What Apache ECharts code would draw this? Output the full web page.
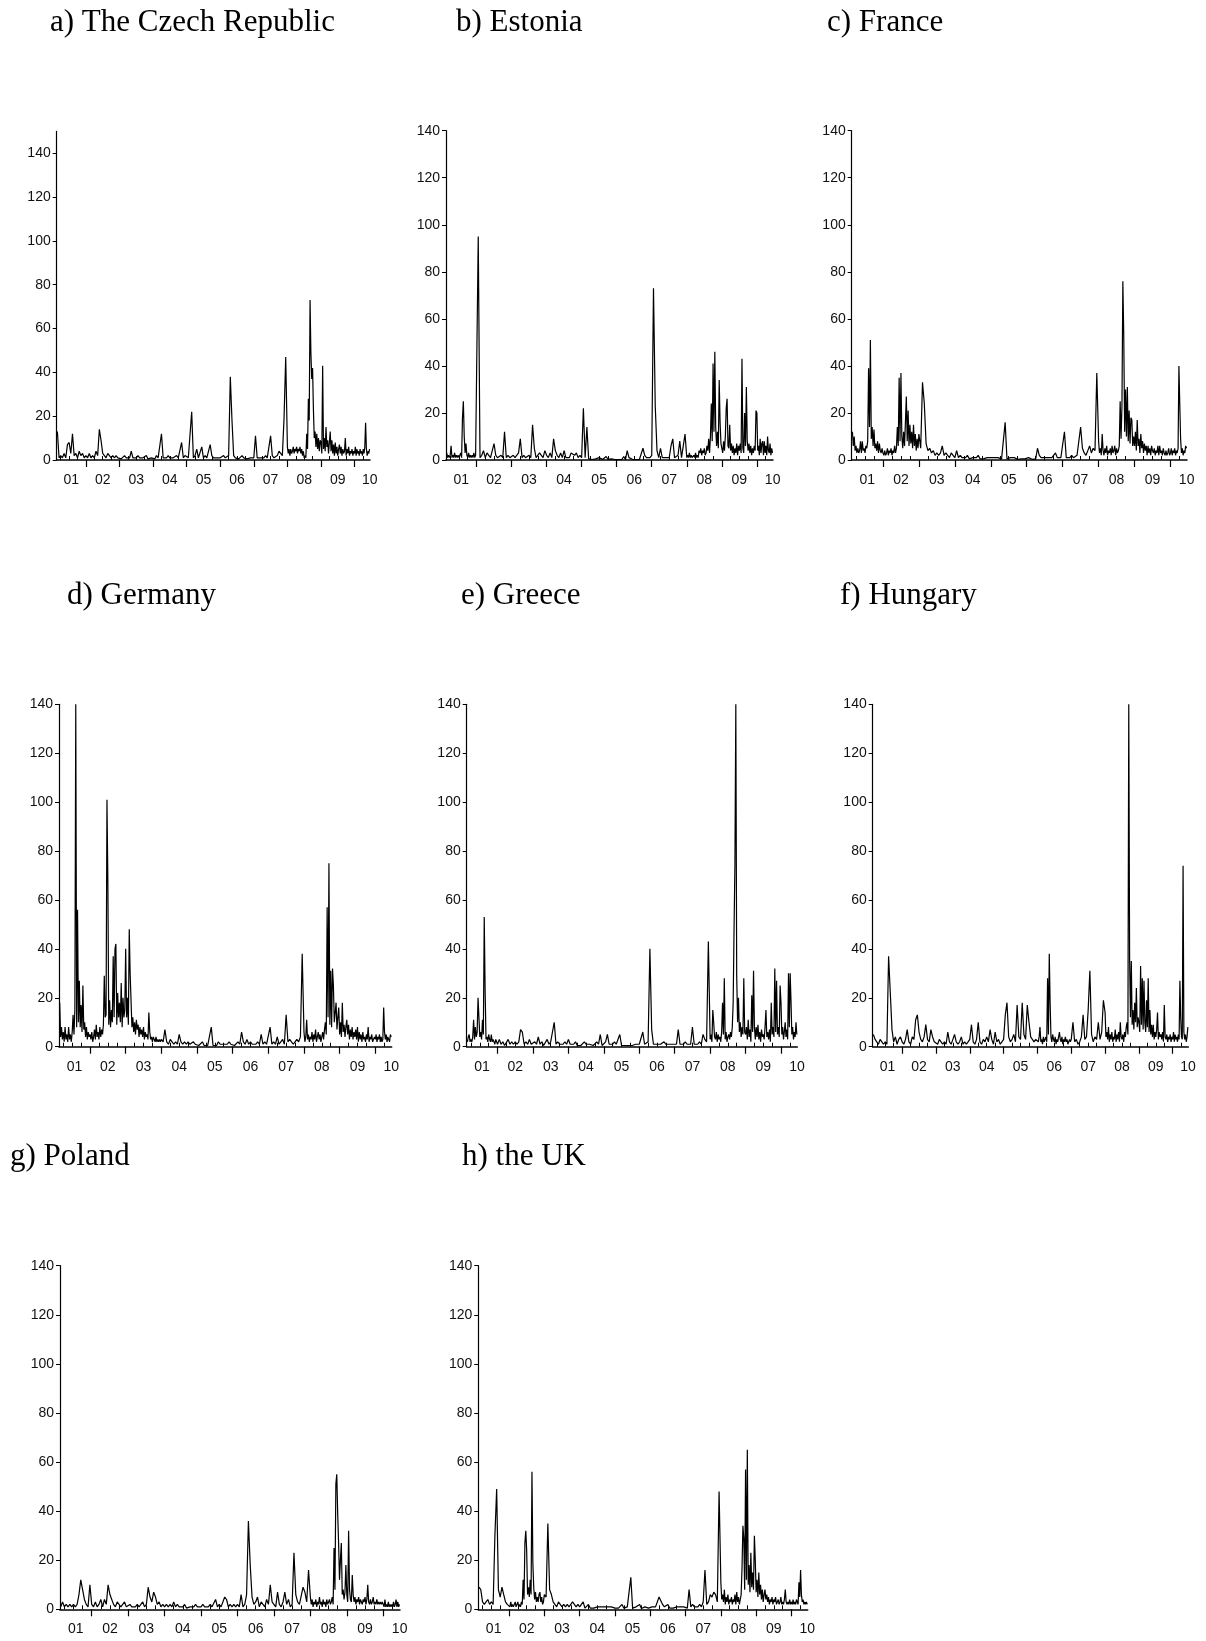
<!DOCTYPE html>
<html>
<head>
<meta charset="utf-8">
<script src="https://cdn.jsdelivr.net/npm/echarts@6/dist/echarts.min.js"></script>
<style>
  html, body { margin: 0; padding: 0; background: #ffffff; }
  #chart { width: 1206px; height: 1641px; }
</style>
</head>
<body>
<div id="chart"></div>
<script>
// Volatility series for eight EU markets, 2001-2010.
// Each country holds one row per year (2001 ... 2010). The 2001 row covers
// 2001.15-2002, the 2010 row covers 2010.0-2010.47, the others a full year;
// observations inside a row are evenly spaced, so busy years carry more points.
const yearTickLabels = ['01', '02', '03', '04', '05', '06', '07', '08', '09', '10'];
const yTickValues = [0, 20, 40, 60, 80, 100, 120, 140];

const czech = [
  [13,1,2,1,3,1,7,8,3,12,2,3,1,4,2,3,1],
  [2,1,3,1,2,1,4,2,14,9,3,2,1,3,2,1,2,1,2,1],
  [1,0.5,1,2,1,0.5,1,4,1,0.5,1,2,1,0.5,1,1,2,0.5,1,1],
  [1,0.5,2,1,1,12,1,0.5,1,2,1,0.5,1,1,2,1,1,8,1,2],
  [2,1,1,22,1,2,5,1,1,6,1,2,1,1,7,2,1,0.5,1,1],
  [1,1,2,1,1,2,38,18,2,1,1,0.5,1,2,1,1,0.5,1,1,1],
  [1,11,1,0.5,1,1,1,2,1,1,11,2,1,1,2,4,3,2,19,47],
  [6,3,5,2,5,3,4,6,3,5,4,6,3,5,4,6,3,5,2,4,1,2,1,12,5,28,18,73,49,37,42,23,10,13,6,12,5,10,4,9],
  [8,3,43,5,10,4,15,6,9,3,8,13,4,9,3,7,2,8,3,6,2,5,7,3,6,2,5,3,4,10,2,5,3,6,2,4,3,5,2,4],
  [3,6,2,5,3,4,2,5,3,4,2,5,3,6,17,5,2,4,3,5]
];

const estonia = [
  [3,1,2,1,2,6,1,2,1,3,1,2,1,2,1,2,3,1,18,25,10,3,7,2,1,3,1,2,1,2,1,3,1,2],
  [2,95,1,2,4,1,3,2,1,1,7,2,1,1,2,1,12,1,2,1],
  [1,2,1,1,3,9,1,2,1,1,2,1,15,5,1,1,3,2,1,4],
  [2,1,3,1,9,4,2,1,3,1,4,1,1,1,3,3,2,3,1,2],
  [1,22,1,14,0.5,0.3,0.2,0.3,0.5,0.2,1,0.3,0.2,0.5,1.5,0.3,0.2,0.5,0.3,0.2],
  [0.3,0.2,0.5,0.3,1.5,0.2,4,1,0.5,0.3,0.5,0.2,0.5,0.3,1,5,2,1,0.5,1],
  [2,73,23,4,1,5,1,0.5,1,1,1,6,9,1,1,2,8,1,1,11],
  [1,2,1,3,1,2,1,1,2,1,3,1,2,1,4,3,5,2,4,3,5,2,3,6,4,9,3,10,24,8,41,12,46,14,6,12,5,34,16,7],
  [5,3,8,4,10,22,26,6,5,15,4,7,3,6,2,5,3,7,2,6,4,7,3,43,5,3,20,6,31,8,4,7,3,6,2,5,3,6,4,21],
  [20,4,6,2,9,3,7,8,2,8,3,6,2,10,4,3,7,2,5,3]
];

const france = [
  [12,6,10,4,6,3,5,3,4,8,3,8,4,5,3,6,5,8,39,14,51,9,14,6,13,5,7,4,8,3,7,4,3,5],
  [3,2,4,2,3,5,2,4,3,5,2,4,3,6,3,5,14,6,35,8,37,10,5,12,6,16,27,8,21,6,15,7,12,5,15,6,11,4,9,5],
  [11,5,33,24,7,4,5,3,4,2,3,2,3,6,2,3,2,1,3,2],
  [1,4,1,2,1,0.5,1,2,0.5,1,1,0.5,1,2,0.5,1,0.5,1,1,0.5],
  [1,0.5,1,0.5,1,1,0.5,0.3,16,0.5,0.3,1,0.5,1,0.5,0.3,1,0.5,1,0.5],
  [0.5,1,0.5,0.3,1,0.5,5,2,1,0.5,1,0.5,1,0.5,1,0.5,3,1,0.5,1],
  [1,12,1,0.5,1,2,1,1,2,2,14,5,3,2,4,6,3,5,4,37],
  [8,3,5,2,11,4,2,5,3,6,2,4,3,5,2,6,3,4,6,2,5,3,4,6,25,9,23,76,53,12,30,10,31,8,21,7,18,17,6,10],
  [6,12,4,17,6,9,3,11,5,8,3,7,4,6,2,6,3,5,2,6,4,3,5,2,4,3,6,2,6,3,4,2,5,3,2,4,2,3,5,2],
  [3,5,2,4,3,5,2,4,3,5,40,24,9,3,5,2,4,3,6,5]
];

const germany = [
  [18,4,8,3,6,2,8,3,5,2,8,3,5,2,6,13,5,15,140,8,56,10,27,8,17,6,25,7,10,4,8,3,6,4],
  [5,3,6,2,4,7,3,9,4,6,3,8,4,7,5,9,29,12,13,101,68,9,19,8,15,10,37,12,40,42,9,22,12,18,10,26,8,20,12,15],
  [40,12,20,9,48,30,19,8,12,6,10,5,11,7,9,4,8,5,7,4,8,3,6,4,5,3,14,6,3,4,2,4,3,2,4,2,3,2,3,2],
  [3,2,7,2,1,3,2,1,2,1,5,2,1,2,1,2,1,1,2,1],
  [1,0.5,1,2,0.5,1,0.5,1,8,0.5,1,0.5,2,1,0.5,1,0.5,1,2,1],
  [1,0.5,1,2,1,6,2,1,3,1,2,1,0.5,1,2,1,5,1,2,1],
  [1,8,1,2,1,4,1,2,3,1,13,2,3,2,1,2,3,2,4,38],
  [6,2,4,11,3,5,2,4,3,6,2,5,3,7,2,4,6,3,5,2,4,6,3,7,10,5,57,12,75,9,31,8,32,25,10,14,18,7,12,16],
  [5,10,4,18,6,9,4,8,11,5,9,3,7,4,8,3,6,4,7,3,8,2,6,3,5,2,6,3,4,2,5,3,8,2,4,3,5,2,3,4],
  [3,5,2,4,3,5,2,4,2,3,16,6,3,5,2,4,3,2,5,4]
];

const greece = [
  [2,4,5,2,3,2,4,11,3,8,4,6,20,12,4,6,3,11,5,53,23,3,4,2,5,3,2,5,2,3,2,1,3,2],
  [1,3,1,2,0.5,1,3,1,2,1,2,1,2,7,6,1,2,1,3,1],
  [1,2,1,4,1,2,0.5,1,3,1,2,2,10,1,2,1,0.5,1,2,1],
  [3,1,0.5,1,2,0.5,1,0.5,1,2,1,0.5,1,1,0.5,1,2,1,5,0.5],
  [1,2,5,1,0.5,1,2,1,1,5,0.5,1,0.5,1,0.5,1,0.5,1,1,0.5],
  [1,0.5,6,1,1,2,40,7,1,0.5,1,0.5,1,0.5,2,1,0.5,1,0.5,1],
  [0.5,1,7,1,0.5,1,2,1,1,1,8,1,0.5,1,2,1,5,3,2,43],
  [3,5,2,15,10,4,3,6,2,5,3,4,2,6,18,5,28,3,6,2,4,5,3,6,4,8,18,48,75,140,29,10,20,6,10,4,8,5,28,6],
  [5,8,3,11,4,7,2,21,6,31,8,3,8,4,9,3,6,2,7,4,5,3,8,15,4,6,3,7,2,18,5,8,4,32,6,27,5,8,4,25],
  [18,5,8,3,6,10,4,7,3,30,8,30,19,5,8,3,6,4,10,5]
];

const hungary = [
  [5,3,2,1,3,2,1,2,1,37,22,7,2,4,1,3,4],
  [2,1,3,7,2,1,4,3,11,13,6,3,2,4,9,3,2,7,4,2],
  [2,1,3,2,1,2,1,6,2,1,3,5,2,1,2,4,1,2,1,2],
  [3,9,2,1,3,10,2,1,3,2,4,2,7,3,1,6,2,3,1,2],
  [3,13,18,4,2,3,5,2,17,4,3,18,5,3,17,10,4,3,2,3],
  [3,2,4,8,2,3,1,4,2,3,4,2,28,5,38,18,4,2,5,3,2,4,1,3,2,4,6,3,2,4,1,3,2,4,2,3,1,2,3,2],
  [3,10,2,3,1,2,4,13,3,4,15,31,5,2,4,3,10,3,6,19],
  [14,4,6,3,8,2,5,3,6,2,4,3,7,2,5,3,6,2,10,4,3,5,2,6,4,8,10,5,140,36,12,35,9,15,7,18,10,24,8,12],
  [10,6,33,9,28,7,27,10,6,19,8,28,6,15,5,9,4,9,3,6,4,7,14,3,6,4,5,3,6,2,17,4,3,5,2,4,3,5,2,4],
  [3,6,2,5,3,4,2,5,3,27,12,4,3,74,6,3,5,2,4,8]
];

const poland = [
  [1,3,1,2,1,2,1,2,1,2,6,12,8,4,2,1,10],
  [2,1,3,1,2,4,1,4,2,10,6,4,2,1,3,2,1,2,3,1],
  [1,2,1,0.5,1,2,1,1,3,1,2,9,5,3,7,5,2,3,1,2],
  [1,2,1,2,1,3,1,2,1,0.5,1,2,0.5,1,1,0.5,1,2,1,0.5],
  [1,2,1,0.5,1,2,1,0.5,4,1,2,1,0.5,5,4,1,2,1,2,1],
  [2,1,6,1,2,6,36,18,5,2,3,5,1,3,2,1,4,2,10,3],
  [2,1,7,2,1,3,7,2,4,1,2,23,6,3,2,2,9,7,3,16],
  [5,2,4,1,3,2,4,1,3,2,5,2,3,1,4,2,3,1,4,2,3,4,2,3,5,2,25,8,51,55,39,27,12,20,27,6,8,4,7,18],
  [6,3,32,8,4,3,14,6,3,5,2,4,3,5,2,4,3,2,4,3,5,2,4,10,3,2,4,2,3,5,2,3,2,4,2,3,2,3,2,3],
  [3,1,4,1,2,1,3,1,2,1,2,1,3,1,2,4,1,3,1,2]
];

const uk = [
  [9,8,3,2,3,4,2,3,2,30,49,8,5,9,6,3,2],
  [2,1,3,1,2,1,2,3,1,2,3,1,2,1,3,2,12,4,27,32,24,6,9,5,12,6,56,19,9,4,7,3,5,3,6,7,3,5,2,3],
  [6,5,35,8,6,3,2,1,3,2,1,2,1,2,1,1,3,2,1,2],
  [1,1,3,0.5,1,2,0.5,1,0.5,1,1,0.5,1,0.5,1,0.5,1,0.5,1,0.5],
  [0.5,1,0.5,1,2,0.5,0.3,1,0.5,13,0.5,0.3,1,0.5,2,0.3,0.5,1,0.3,0.5],
  [0.5,1,0.5,1,0.5,5,5,2,1,0.5,2,0.5,1,0.5,0.3,1,0.5,1,0.5,1],
  [1,0.5,8,1,2,1,0.5,1,2,1,3,16,2,3,6,5,7,6,3,48],
  [11,4,6,3,8,2,5,3,6,2,4,3,5,2,4,3,6,2,7,3,5,2,4,6,17,34,29,8,57,12,65,10,18,7,23,9,15,8,30,20],
  [7,12,5,15,6,10,4,8,3,6,8,4,6,3,5,2,4,3,5,2,4,3,5,2,3,4,2,3,5,2,3,2,4,8,3,2,3,2,4,2],
  [3,2,4,2,3,2,4,3,2,11,5,16,6,3,4,2,3,2,3,2]
];

const FIRST_YEAR = 2001;
const FIRST_ROW_START = 2001.15;
const LAST_ROW_SPAN = 0.47;
const X_MIN = 2001.13;
const X_MAX = 2010.46;

// Turn yearly rows into [time, value] pairs.
function toPoints(rows) {
  const pts = [];
  rows.forEach((row, i) => {
    const year = FIRST_YEAR + i;
    let start = year, span = 1;
    if (i === 0) { start = FIRST_ROW_START; span = year + 1 - FIRST_ROW_START; }
    else if (i === rows.length - 1) { span = LAST_ROW_SPAN; }
    const step = span / row.length;
    row.forEach((v, j) => pts.push([+(start + j * step).toFixed(4), v]));
  });
  return pts;
}

// Panel layout (pixels) and titles.
const panels = [
  { title: 'a) The Czech Republic', rows: czech,   yMax: 150, grid: [56.7, 131.4, 313.3, 328.6], tl: [50, 7] },
  { title: 'b) Estonia',            rows: estonia, yMax: 140, grid: [446, 130.7, 327, 329.3],    tl: [456, 7] },
  { title: 'c) France',             rows: france,  yMax: 140, grid: [851.7, 130.7, 335.3, 329.3], tl: [827, 7] },
  { title: 'd) Germany',            rows: germany, yMax: 140, grid: [59, 704.3, 332.7, 342.4],   tl: [67, 580] },
  { title: 'e) Greece',             rows: greece,  yMax: 140, grid: [466.7, 704.3, 330.6, 342.4], tl: [461, 580] },
  { title: 'f) Hungary',            rows: hungary, yMax: 140, grid: [872.7, 704.3, 315.6, 342.4], tl: [840, 580] },
  { title: 'g) Poland',             rows: poland,  yMax: 140, grid: [60, 1265.7, 340, 343.6],    tl: [10, 1141] },
  { title: 'h) the UK',             rows: uk,      yMax: 140, grid: [478.3, 1265.7, 329.4, 343.6], tl: [462, 1141] }
];

// Year boundaries get long ticks, quarters short ticks, labels sit mid-year.
const yearTicks = [];
for (let y = 2002; y <= 2010; y++) yearTicks.push(y);
const quarterTicks = [];
for (let y = 2001; y <= 2010; y++) {
  [0.25, 0.5, 0.75].forEach(q => { if (y + q > X_MIN && y + q < X_MAX) quarterTicks.push(y + q); });
}
const labelPositions = yearTickLabels.map((s, i) => {
  const y = FIRST_YEAR + i;
  if (i === 0) return (X_MIN + y + 1) / 2;
  if (i === yearTickLabels.length - 1) return X_MAX - 0.01;
  return y + 0.5;
});

const axisFont = "'Liberation Sans Narrow', 'Arial Narrow', 'Liberation Sans', Arial, sans-serif";
const labelStyle = { fontFamily: axisFont, fontSize: 14, color: '#111' };

const option = {
  animation: false,
  backgroundColor: '#ffffff',
  title: panels.map(p => ({
    text: p.title,
    left: p.tl[0],
    top: p.tl[1],
    padding: 0,
    textStyle: { fontFamily: "'Liberation Serif', 'Times New Roman', serif", fontSize: 31, fontWeight: 'normal', color: '#000' }
  })),
  grid: panels.map(p => ({ left: p.grid[0], top: p.grid[1], width: p.grid[2], height: p.grid[3], containLabel: false })),
  xAxis: [],
  yAxis: [],
  series: []
};

panels.forEach((p, i) => {
  option.xAxis.push({
    type: 'value', gridIndex: i, min: X_MIN, max: X_MAX,
    axisLine: { show: true, onZero: false, lineStyle: { color: '#000', width: 1.5 } },
    axisTick: { show: true, customValues: yearTicks, length: 7, lineStyle: { color: '#000', width: 1.2 } },
    axisLabel: {
      show: true, customValues: labelPositions, margin: 13, ...labelStyle,
      formatter: v => yearTickLabels[Math.min(yearTickLabels.length - 1, Math.floor(v + 1e-6) - FIRST_YEAR)]
    },
    splitLine: { show: false }
  });
  option.xAxis.push({
    type: 'value', gridIndex: i, min: X_MIN, max: X_MAX,
    axisLine: { show: false },
    axisTick: { show: true, customValues: quarterTicks, length: 4, lineStyle: { color: '#000', width: 1 } },
    axisLabel: { show: false },
    splitLine: { show: false }
  });
  option.yAxis.push({
    type: 'value', gridIndex: i, min: 0, max: p.yMax,
    axisLine: { show: true, lineStyle: { color: '#000', width: 1.2 } },
    axisTick: { show: true, customValues: yTickValues, length: 4, lineStyle: { color: '#000', width: 1 } },
    axisLabel: { show: true, customValues: yTickValues, margin: 6, ...labelStyle },
    splitLine: { show: false }
  });
  option.series.push({
    type: 'line', xAxisIndex: i * 2, yAxisIndex: i,
    data: toPoints(p.rows),
    showSymbol: false, symbol: 'none',
    lineStyle: { color: '#000', width: 1.2 },
    clip: true
  });
});

const chart = echarts.init(document.getElementById('chart'), null, { renderer: 'canvas' });
chart.setOption(option);
</script>
</body>
</html>
